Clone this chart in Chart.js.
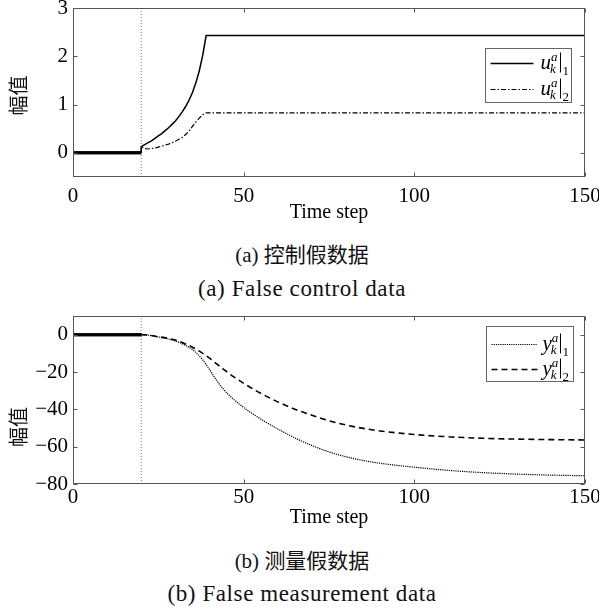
<!DOCTYPE html>
<html>
<head>
<meta charset="utf-8">
<script src="https://cdn.jsdelivr.net/npm/chart.js@4.4.1/dist/chart.umd.min.js"></script>
<style>
  body { margin: 0; background: #fff; width: 599px; height: 608px; position: relative; overflow: hidden; }
  canvas { position: absolute; left: 0; }
  .cap { position: absolute; left: 0; width: 604px; text-align: center; height: 30px; line-height: 30px;
         color: #111; white-space: nowrap; font-family: "Liberation Serif", serif; }
  .cap .cjk { font-family: "Noto Sans CJK SC", sans-serif; }
  .zh { font-size: 21px; }
  .en { font-size: 23px; letter-spacing: 0.6px; }
</style>
</head>
<body>
<canvas id="topChart" width="599" height="228" style="top:0"></canvas>
<div class="cap zh" style="top:238px">(a) <span class="cjk">控制假数据</span></div>
<div class="cap en" style="top:274px">(a) False control data</div>
<canvas id="bottomChart" width="599" height="228" style="top:304px"></canvas>
<div class="cap zh" style="top:544px">(b) <span class="cjk">测量假数据</span></div>
<div class="cap en" style="top:579px">(b) False measurement data</div>
<script>
// --- data ---
const attackStep = 20;
const xTicks = [0, 50, 100, 150];

// (a) false control data
const stepsTop = [0, 20, 20, 21, 22, 23, 24, 25, 26, 27, 28, 29, 30, 31, 32, 33, 34, 35, 36, 37, 38, 39, 150];
const u1 = [0, 0, 0.13, 0.17, 0.21, 0.25, 0.30, 0.35, 0.40, 0.46, 0.52, 0.59, 0.66, 0.75, 0.85, 0.96, 1.09, 1.25, 1.45, 1.70, 2.02, 2.43, 2.43];
const u2 = [0, 0, 0.13, 0.09, 0.08, 0.09, 0.10, 0.12, 0.14, 0.16, 0.18, 0.21, 0.24, 0.28, 0.32, 0.38, 0.45, 0.55, 0.64, 0.72, 0.79, 0.83, 0.83];
const yTicksTop = [0, 1, 2, 3];

// (b) false measurement data
const stepsBottom = [0, 20, 25, 30, 33, 35, 36, 38, 40, 42, 44, 46, 48, 50, 52, 55, 60, 65, 70, 75, 80, 85, 90, 100, 110, 120, 135, 150];
const y1 = [0, 0, -1.2, -3.4, -5.8, -8.0, -9.5, -13.5, -18.7, -24.3, -29.1, -32.9, -36.1, -39.0, -41.6, -45.2, -50.5, -55.3, -59.4, -62.8, -65.4, -67.4, -68.9, -71.0, -72.7, -73.9, -75.0, -75.6];
const y2 = [0, 0, -1.1, -2.9, -5.0, -6.7, -7.7, -10.0, -12.6, -15.5, -18.4, -21.2, -23.7, -26.1, -28.3, -31.4, -36.0, -39.9, -43.2, -46.1, -48.4, -50.2, -51.6, -53.5, -54.7, -55.5, -56.1, -56.4];
const yTicksBottom = [-80, -60, -40, -20, 0];

const serif = 'Liberation Serif';
const toPoints = (xs, ys) => xs.map((x, i) => ({ x: x, y: ys[i] }));

// thick solid line where both series sit at zero before the attack
const preAttack = {
  borderDash: ctx => ctx.p1.parsed.x <= attackStep && ctx.p0.parsed.x < attackStep ? [] : undefined,
  borderWidth: ctx => ctx.p1.parsed.x <= attackStep && ctx.p0.parsed.x < attackStep ? 3 : undefined
};

// box round the plot with inward ticks on all four sides
const frame = {
  id: 'frame',
  afterDatasetsDraw(chart) {
    const { ctx, chartArea: a, scales: { x, y } } = chart;
    const L = Math.round(a.left) + 0.5, R = Math.round(a.right) - 0.5;
    const T = Math.round(a.top) + 0.5, B = Math.round(a.bottom) - 0.5;
    ctx.save();
    ctx.strokeStyle = '#555';
    ctx.lineWidth = 1;
    ctx.strokeRect(L, T, R - L, B - T);
    ctx.beginPath();
    x.ticks.forEach(t => {
      const px = Math.round(x.getPixelForValue(t.value)) + 0.5;
      ctx.moveTo(px, B); ctx.lineTo(px, B - 4);
      ctx.moveTo(px, T); ctx.lineTo(px, T + 4);
    });
    y.ticks.forEach(t => {
      const py = Math.round(y.getPixelForValue(t.value)) + 0.5;
      ctx.moveTo(L, py); ctx.lineTo(L + 4, py);
      ctx.moveTo(R, py); ctx.lineTo(R - 4, py);
    });
    ctx.stroke();
    ctx.restore();
  }
};

// legend with labels like u_k^a|1
function drawSymbol(ctx, label, x, y) {
  const m = label.match(/^(.)_(.)\^(.)\|(.)$/);
  ctx.fillStyle = '#000';
  ctx.textAlign = 'left';
  ctx.textBaseline = 'alphabetic';
  ctx.font = 'italic 21px "' + serif + '"';
  ctx.fillText(m[1], x, y + 5);
  const w = ctx.measureText(m[1]).width;
  ctx.font = 'italic 13px "' + serif + '"';
  ctx.fillText(m[3], x + w, y - 3);
  ctx.fillText(m[2], x + w - 1, y + 9);
  const ws = Math.max(ctx.measureText(m[3]).width, ctx.measureText(m[2]).width);
  const bx = Math.round(x + w + ws + 2) + 0.5;
  ctx.beginPath();
  ctx.moveTo(bx, y - 11); ctx.lineTo(bx, y + 9);
  ctx.lineWidth = 1;
  ctx.strokeStyle = '#000';
  ctx.stroke();
  ctx.font = '13px "' + serif + '"';
  ctx.fillText(m[4], bx + 2, y + 11);
}

const mathLegend = {
  id: 'mathLegend',
  afterDraw(chart, args, opts) {
    const { ctx, chartArea: a } = chart;
    const x0 = Math.round(a.right - opts.right - opts.width) + 0.5;
    const y0 = Math.round(a.top + opts.top) + 0.5;
    ctx.save();
    ctx.fillStyle = '#fff';
    ctx.fillRect(x0, y0, opts.width, opts.height);
    ctx.strokeStyle = '#666';
    ctx.lineWidth = 1;
    ctx.strokeRect(x0, y0, opts.width, opts.height);
    let row = 0;
    chart.data.datasets.forEach(ds => {
      if (!ds.label) return;
      const cy = Math.round(y0 + opts.rowStart + row * opts.rowStep) + 0.5;
      ctx.beginPath();
      ctx.setLineDash(ds.borderDash || []);
      ctx.lineWidth = ds.borderWidth;
      ctx.strokeStyle = ds.borderColor;
      ctx.moveTo(x0 + 5, cy); ctx.lineTo(x0 + opts.sample, cy);
      ctx.stroke();
      ctx.setLineDash([]);
      drawSymbol(ctx, ds.label, x0 + opts.textAt, cy);
      row++;
    });
    ctx.restore();
  }
};

const yTitle = {
  id: 'yTitle',
  afterDraw(chart, args, opts) {
    const { ctx, chartArea: a } = chart;
    ctx.save();
    ctx.translate(opts.x, (a.top + a.bottom) / 2 + opts.dy);
    ctx.rotate(-Math.PI / 2);
    ctx.fillStyle = '#111';
    ctx.font = '20px "Noto Sans CJK SC"';
    ctx.textAlign = 'center';
    ctx.textBaseline = 'middle';
    ctx.fillText(opts.text, 0, 0);
    ctx.restore();
  }
};

function makeChart(id, o) {
  const markerLine = {
    data: [{ x: attackStep, y: o.yMin }, { x: attackStep, y: o.yMax }],
    borderColor: '#777', borderWidth: 1, borderDash: [1, 2]
  };
  return new Chart(document.getElementById(id), {
    type: 'line',
    data: { datasets: o.series.concat([markerLine]) },
    options: {
      responsive: false,
      animation: false,
      events: [],
      layout: { padding: { top: o.padTop, right: 14, bottom: o.padBottom, left: 0 } },
      elements: { point: { radius: 0 }, line: { borderCapStyle: 'butt' } },
      plugins: {
        legend: { display: false },
        tooltip: { enabled: false },
        mathLegend: o.legend,
        yTitle: { text: '幅值', x: 18, dy: o.titleDy }
      },
      scales: {
        x: {
          type: 'linear', min: 0, max: 150,
          grid: { display: false, drawTicks: false },
          border: { display: false },
          afterBuildTicks: s => { s.ticks = xTicks.map(v => ({ value: v })); },
          afterFit: s => { s.height = o.xHeight; s.paddingLeft = 0; s.paddingRight = 0; },
          ticks: { color: '#000', font: { family: serif, size: 21 }, padding: o.xPad, maxRotation: 0, autoSkip: false },
          title: { display: true, text: 'Time step', color: '#000', font: { family: serif, size: 20 }, padding: 0 }
        },
        y: {
          type: 'linear', min: o.yMin, max: o.yMax,
          grid: { display: false, drawTicks: false },
          border: { display: false },
          afterBuildTicks: s => { s.ticks = o.yTicks.map(v => ({ value: v })); },
          afterFit: s => { s.width = 73; s.paddingTop = 0; s.paddingBottom = 0; },
          ticks: { color: '#000', font: { family: serif, size: 21 }, padding: 5,
                   callback: v => String(v).replace('-', '\u2212') }
        }
      }
    },
    plugins: [frame, mathLegend, yTitle]
  });
}

makeChart('topChart', {
  yMin: -0.5, yMax: 3, yTicks: yTicksTop,
  padTop: 8, padBottom: 3, xHeight: 48, xPad: 7, titleDy: 3,
  legend: { right: 14, top: 40, width: 86, height: 54, rowStart: 14, rowStep: 26, sample: 48, textAt: 55 },
  series: [
    { label: 'u_k^a|1', data: toPoints(stepsTop, u1), borderColor: '#000', borderWidth: 1.5, segment: preAttack },
    { label: 'u_k^a|2', data: toPoints(stepsTop, u2), borderColor: '#000', borderWidth: 1.2, borderDash: [5, 2, 1.5, 2], segment: preAttack }
  ]
});

makeChart('bottomChart', {
  yMin: -80, yMax: 10, yTicks: yTicksBottom,
  padTop: 12, padBottom: 2, xHeight: 46, xPad: 1, titleDy: 27,
  legend: { right: 12, top: 10, width: 87, height: 55, rowStart: 17, rowStep: 25, sample: 51, textAt: 56 },
  series: [
    { label: 'y_k^a|1', data: toPoints(stepsBottom, y1), borderColor: '#000', borderWidth: 1.2, borderDash: [1.2, 1],
      cubicInterpolationMode: 'monotone', segment: preAttack },
    { label: 'y_k^a|2', data: toPoints(stepsBottom, y2), borderColor: '#000', borderWidth: 1.6, borderDash: [6, 4],
      cubicInterpolationMode: 'monotone', segment: preAttack }
  ]
});
</script>
</body>
</html>
